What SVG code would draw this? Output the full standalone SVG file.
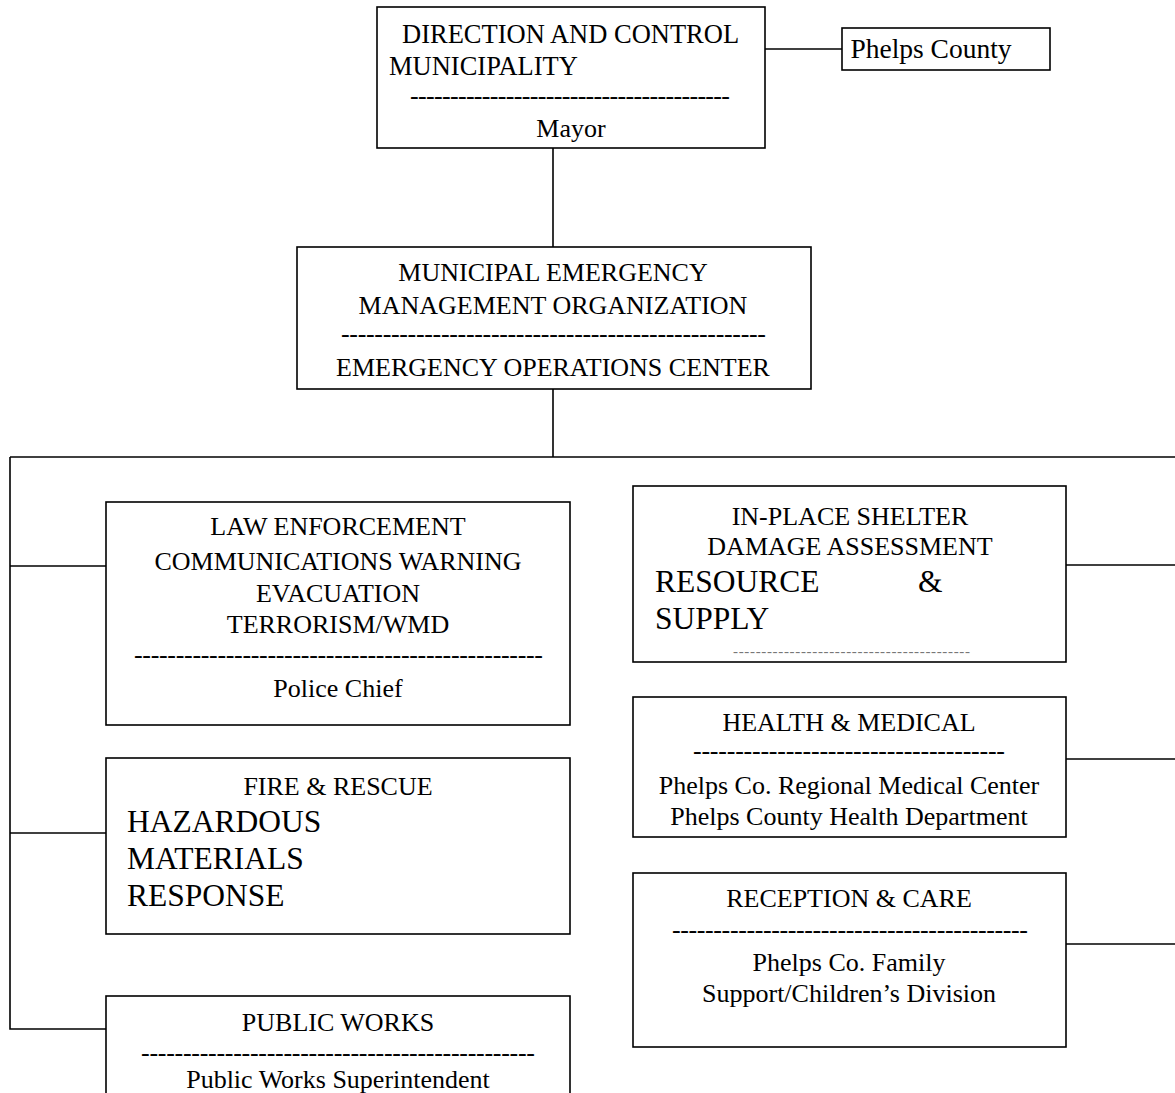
<svg xmlns="http://www.w3.org/2000/svg" width="1175" height="1093" viewBox="0 0 1175 1093">
<style>
.box{fill:#fff;stroke:#000;stroke-width:1.6}
.ln{fill:none;stroke:#000;stroke-width:1.6}
text{font-family:"Liberation Serif","Times New Roman",serif;font-size:26px;fill:#000}
.c{text-anchor:middle}
.big{font-size:31.5px}
.sm{font-size:15px;fill:#777}
</style>
<rect width="1175" height="1093" fill="#fff"/>
<g id="connectors">
<line class="ln" x1="765" y1="49" x2="842" y2="49"/>
<line class="ln" x1="553" y1="148" x2="553" y2="247"/>
<line class="ln" x1="553" y1="389" x2="553" y2="457"/>
<line class="ln" x1="10" y1="457" x2="1175" y2="457"/>
<polyline class="ln" points="10,457 10,1029 106,1029"/>
<line class="ln" x1="10" y1="566" x2="106" y2="566"/>
<line class="ln" x1="10" y1="833" x2="106" y2="833"/>
<line class="ln" x1="1066" y1="565" x2="1175" y2="565"/>
<line class="ln" x1="1066" y1="759" x2="1175" y2="759"/>
<line class="ln" x1="1066" y1="944" x2="1175" y2="944"/>
</g>
<g id="direction">
<rect class="box" x="377" y="7" width="388" height="141"/>
<text x="402" y="43" style="font-size:26.5px">DIRECTION AND CONTROL</text>
<text x="389" y="75" style="font-size:26.5px">MUNICIPALITY</text>
<text x="410" y="104" textLength="320" lengthAdjust="spacing">----------------------------------------</text>
<text class="c" x="571" y="137">Mayor</text>
</g>
<g id="phelps">
<rect class="box" x="842" y="28" width="208" height="42"/>
<text class="c" x="931" y="58" style="font-size:27.5px">Phelps County</text>
</g>
<g id="memo">
<rect class="box" x="297" y="247" width="514" height="142"/>
<text class="c" x="553" y="281">MUNICIPAL EMERGENCY</text>
<text class="c" x="553" y="314">MANAGEMENT ORGANIZATION</text>
<text x="341" y="342" textLength="425" lengthAdjust="spacing">---------------------------------------------------</text>
<text class="c" x="553" y="376">EMERGENCY OPERATIONS CENTER</text>
</g>
<g id="law">
<rect class="box" x="106" y="502" width="464" height="223"/>
<text class="c" x="338" y="535">LAW ENFORCEMENT</text>
<text class="c" x="338" y="570">COMMUNICATIONS WARNING</text>
<text class="c" x="338" y="602">EVACUATION</text>
<text class="c" x="338" y="633">TERRORISM/WMD</text>
<text x="134" y="663" textLength="409" lengthAdjust="spacing">-------------------------------------------------</text>
<text class="c" x="338" y="697">Police Chief</text>
</g>
<g id="fire">
<rect class="box" x="106" y="758" width="464" height="176"/>
<text class="c" x="338" y="795">FIRE &amp; RESCUE</text>
<text class="big" x="127" y="832">HAZARDOUS</text>
<text class="big" x="127" y="869">MATERIALS</text>
<text class="big" x="127" y="906">RESPONSE</text>
</g>
<g id="publicworks">
<rect class="box" x="106" y="996" width="464" height="110"/>
<text class="c" x="338" y="1031">PUBLIC WORKS</text>
<text x="141" y="1061" textLength="394" lengthAdjust="spacing">-----------------------------------------------</text>
<text class="c" x="338" y="1088">Public Works Superintendent</text>
</g>
<g id="shelter">
<rect class="box" x="633" y="486" width="433" height="176"/>
<text class="c" x="850" y="525">IN-PLACE SHELTER</text>
<text class="c" x="850" y="555">DAMAGE ASSESSMENT</text>
<text class="big" x="655" y="592">RESOURCE</text>
<text class="big" x="918" y="592">&amp;</text>
<text class="big" x="655" y="629">SUPPLY</text>
<text class="sm" x="733" y="656" textLength="237" lengthAdjust="spacing">------------------------------------------</text>
</g>
<g id="health">
<rect class="box" x="633" y="697" width="433" height="140"/>
<text class="c" x="849" y="731">HEALTH &amp; MEDICAL</text>
<text x="693" y="759" textLength="312" lengthAdjust="spacing">-------------------------------------</text>
<text class="c" x="849" y="794">Phelps Co. Regional Medical Center</text>
<text class="c" x="849" y="825">Phelps County Health Department</text>
</g>
<g id="reception">
<rect class="box" x="633" y="873" width="433" height="174"/>
<text class="c" x="849" y="907">RECEPTION &amp; CARE</text>
<text x="672" y="938" textLength="356" lengthAdjust="spacing">-------------------------------------------</text>
<text class="c" x="849" y="971">Phelps Co. Family</text>
<text class="c" x="849" y="1002">Support/Children’s Division</text>
</g>
</svg>
